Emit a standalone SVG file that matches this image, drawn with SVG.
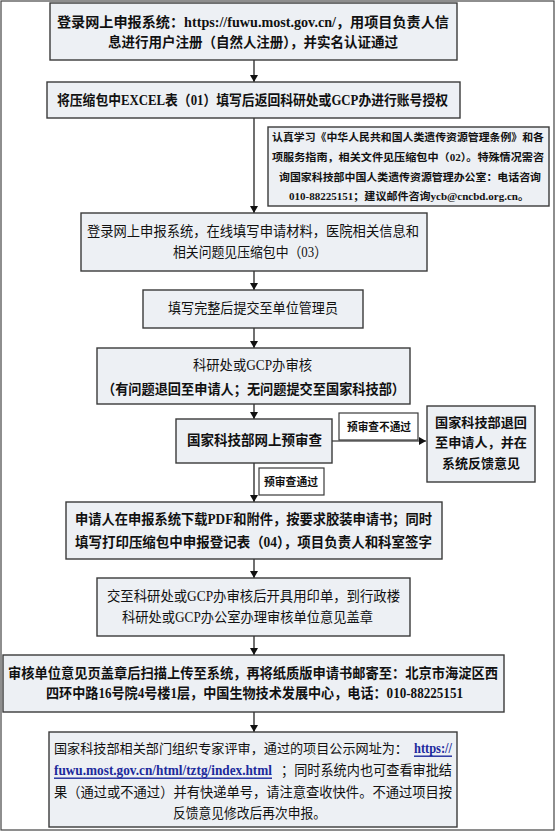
<svg xmlns="http://www.w3.org/2000/svg" width="556" height="832" viewBox="0 0 556 832">
<defs>
<marker id="ah" markerUnits="userSpaceOnUse" markerWidth="8" markerHeight="9" refX="7" refY="4" orient="auto">
<path d="M0,0 L7,4 L0,8 Z" fill="#111"/>
</marker>
<style>
.box{fill:#edf0f4;stroke:#3a3a3a;stroke-width:1.4}
.lbl{fill:#fff;stroke:#3a3a3a;stroke-width:1.2}
.t{font-family:"Liberation Serif","Noto Sans CJK SC",serif;font-size:14px;fill:#111;dominant-baseline:central}
.b{font-weight:bold}
.s{font-size:10.5px}
.xs{font-size:11px}
.lk{fill:#1c2a9c;text-decoration:underline;font-weight:bold}
.c{stroke:#111;stroke-width:1.2;fill:none}
</style>
</defs>
<rect x="0" y="0" width="556" height="832" fill="#fff"/>
<rect x="1" y="1" width="553" height="829" fill="none" stroke="#444" stroke-width="1.2"/>

<g id="connectors">
<line class="c" x1="254" y1="60" x2="254" y2="82" marker-end="url(#ah)"/>
<line class="c" x1="254" y1="118" x2="254" y2="213" marker-end="url(#ah)"/>
<line class="c" x1="254" y1="271" x2="254" y2="290" marker-end="url(#ah)"/>
<line class="c" x1="254" y1="328" x2="254" y2="348" marker-end="url(#ah)"/>
<line class="c" x1="254" y1="404" x2="254" y2="419" marker-end="url(#ah)"/>
<line class="c" x1="254" y1="463" x2="254" y2="502" marker-end="url(#ah)"/>
<line class="c" x1="332" y1="441" x2="426" y2="441" marker-end="url(#ah)"/>
<line class="c" x1="254" y1="559" x2="254" y2="578" marker-end="url(#ah)"/>
<line class="c" x1="254" y1="636" x2="254" y2="655" marker-end="url(#ah)"/>
<line class="c" x1="254" y1="712" x2="254" y2="732" marker-end="url(#ah)"/>
</g>

<g id="n1">
<rect class="box" x="50" y="3" width="407" height="57"/>
<text class="t b" x="57" y="22" textLength="392" lengthAdjust="spacingAndGlyphs">登录网上申报系统：https://fuwu.most.gov.cn/，用项目负责人信</text>
<text class="t b" x="108" y="42" textLength="290" lengthAdjust="spacingAndGlyphs">息进行用户注册（自然人注册），并实名认证通过</text>
</g>

<g id="n2">
<rect class="box" x="47" y="82" width="413" height="36"/>
<text class="t b" x="57" y="100" textLength="391" lengthAdjust="spacingAndGlyphs">将压缩包中EXCEL表（01）填写后返回科研处或GCP办进行账号授权</text>
</g>

<g id="note">
<rect class="box" x="268" y="127" width="281" height="79"/>
<text class="t b s" x="272" y="137" textLength="272" lengthAdjust="spacingAndGlyphs">认真学习《中华人民共和国人类遗传资源管理条例》和各</text>
<text class="t b s" x="272" y="157" textLength="272" lengthAdjust="spacingAndGlyphs">项服务指南，相关文件见压缩包中（02）。特殊情况需咨</text>
<text class="t b s" x="279" y="177" textLength="262" lengthAdjust="spacingAndGlyphs">询国家科技部中国人类遗传资源管理办公室：电话咨询</text>
<text class="t b s" x="289" y="196" textLength="240" lengthAdjust="spacingAndGlyphs">010-88225151；建议邮件咨询ycb@cncbd.org.cn。</text>
</g>

<g id="n3">
<rect class="box" x="81" y="213" width="346" height="58"/>
<text class="t" x="87" y="231" textLength="332" lengthAdjust="spacingAndGlyphs">登录网上申报系统，在线填写申请材料，医院相关信息和</text>
<text class="t" x="173" y="252" textLength="154" lengthAdjust="spacingAndGlyphs">相关问题见压缩包中（03）</text>
</g>

<g id="n4">
<rect class="box" x="143" y="290" width="220" height="38"/>
<text class="t" x="168" y="308" textLength="170" lengthAdjust="spacingAndGlyphs">填写完整后提交至单位管理员</text>
</g>

<g id="n5">
<rect class="box" x="97" y="348" width="313" height="56"/>
<text class="t" x="193" y="365" textLength="119" lengthAdjust="spacingAndGlyphs">科研处或GCP办审核</text>
<text class="t b" x="102" y="389" textLength="303" lengthAdjust="spacingAndGlyphs">（有问题退回至申请人；无问题提交至国家科技部）</text>
</g>

<g id="n6">
<rect class="box" x="176" y="419" width="156" height="44"/>
<text class="t b" x="187" y="440" textLength="135" lengthAdjust="spacingAndGlyphs" style="font-size:14px">国家科技部网上预审查</text>
</g>

<g id="n-return">
<rect class="box" x="427" y="406" width="108" height="76"/>
<text class="t b" x="435" y="422" textLength="92" lengthAdjust="spacingAndGlyphs" style="font-size:13px">国家科技部退回</text>
<text class="t b" x="435" y="442" textLength="92" lengthAdjust="spacingAndGlyphs" style="font-size:13px">至申请人，并在</text>
<text class="t b" x="442" y="463" textLength="78" lengthAdjust="spacingAndGlyphs" style="font-size:13px">系统反馈意见</text>
</g>

<g id="lbl-fail">
<rect class="lbl" x="339" y="413" width="79" height="27"/>
<text class="t b xs" x="347" y="427" textLength="64" lengthAdjust="spacingAndGlyphs">预审查不通过</text>
</g>

<g id="lbl-pass">
<rect class="lbl" x="259" y="468" width="65" height="27"/>
<text class="t b xs" x="264" y="482" textLength="54" lengthAdjust="spacingAndGlyphs">预审查通过</text>
</g>

<g id="n7">
<rect class="box" x="66" y="502" width="376" height="57"/>
<text class="t b" x="75" y="519" textLength="357" lengthAdjust="spacingAndGlyphs">申请人在申报系统下载PDF和附件，按要求胶装申请书；同时</text>
<text class="t b" x="75" y="542" textLength="357" lengthAdjust="spacingAndGlyphs">填写打印压缩包中申报登记表（04），项目负责人和科室签字</text>
</g>

<g id="n8">
<rect class="box" x="97" y="578" width="313" height="58"/>
<text class="t" x="107" y="596" textLength="293" lengthAdjust="spacingAndGlyphs">交至科研处或GCP办审核后开具用印单，到行政楼</text>
<text class="t" x="122" y="617" textLength="251" lengthAdjust="spacingAndGlyphs">科研处或GCP办公室办理审核单位意见盖章</text>
</g>

<g id="n9">
<rect class="box" x="3" y="655" width="501" height="57"/>
<text class="t b" x="8" y="673" textLength="490" lengthAdjust="spacingAndGlyphs">审核单位意见页盖章后扫描上传至系统，再将纸质版申请书邮寄至：北京市海淀区西</text>
<text class="t b" x="46" y="693" textLength="417" lengthAdjust="spacingAndGlyphs">四环中路16号院4号楼1层，中国生物技术发展中心，电话：010-88225151</text>
</g>

<g id="n10">
<rect class="box" x="49" y="732" width="408" height="95"/>
<text class="t" x="54" y="748" textLength="354" lengthAdjust="spacingAndGlyphs" style="font-size:13px">国家科技部相关部门组织专家评审，通过的项目公示网址为：</text>
<text class="t lk" x="414" y="748" textLength="38" lengthAdjust="spacingAndGlyphs">https://</text>
<text class="t lk" x="54" y="770" textLength="218" lengthAdjust="spacingAndGlyphs">fuwu.most.gov.cn/html/tztg/index.html</text>
<text class="t" x="281" y="770" textLength="171" lengthAdjust="spacingAndGlyphs">；同时系统内也可查看审批结</text>
<text class="t" x="54" y="792" textLength="398" lengthAdjust="spacingAndGlyphs">果（通过或不通过）并有快递单号，请注意查收快件。不通过项目按</text>
<text class="t" x="173" y="813" textLength="153" lengthAdjust="spacingAndGlyphs">反馈意见修改后再次申报。</text>
</g>
</svg>
